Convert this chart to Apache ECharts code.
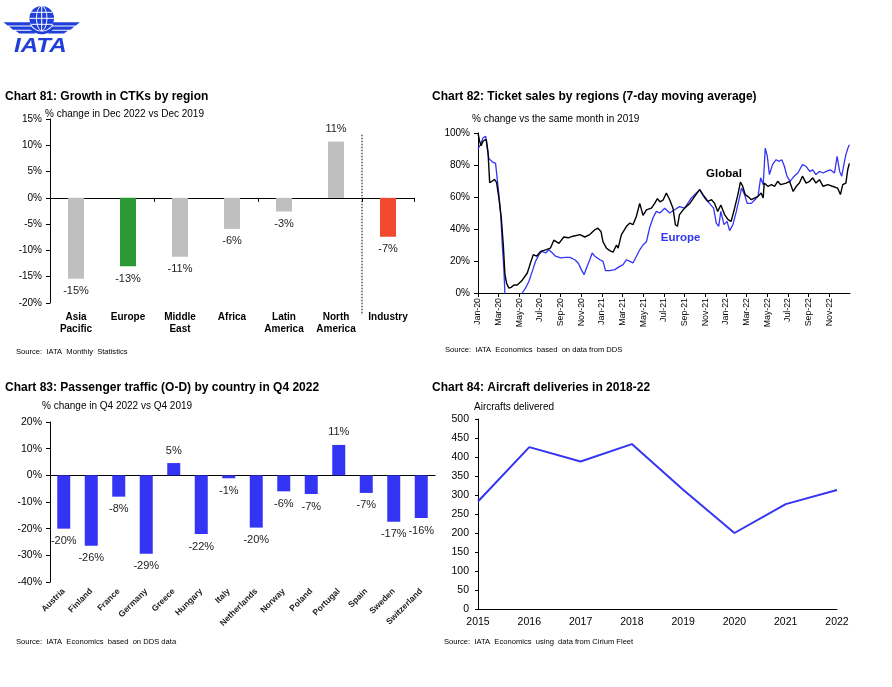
<!DOCTYPE html>
<html><head><meta charset="utf-8">
<script src="https://cdn.jsdelivr.net/npm/echarts@6/dist/echarts.min.js"></script>
<style>html,body{margin:0;padding:0;background:#fff}#c{width:892px;height:687px}</style>
</head><body><div id="c"></div>
<script>
const FONT = "'Liberation Sans', Arial, Helvetica, sans-serif";

// ---------- Chart 81: Growth in CTKs by region (% change Dec 2022 vs Dec 2019)
const ctkRegions = ['Asia\nPacific', 'Europe', 'Middle\nEast', 'Africa', 'Latin\nAmerica', 'North\nAmerica', 'Industry'];
const ctkGrowth = [-15.4, -13.0, -11.2, -5.9, -2.6, 10.7, -7.4];

// ---------- Chart 82: Ticket sales by regions (7-day moving average), [months since Jan-2020, % ]
const ticketMonthNames = ['Jan', 'Mar', 'May', 'Jul', 'Sep', 'Nov'];
const globalSales = [[0,100],[0.15,95],[0.3,92],[0.5,95],[0.8,96],[0.97,88],[1.13,69],[1.4,70],[1.6,71],[1.8,69],[2.03,59],[2.25,47],[2.45,30],[2.6,12],[2.77,6],[3.0,3],[3.2,3.5],[3.48,5],[3.8,5],[4.28,8],[4.77,12.5],[5.09,19],[5.35,24],[5.67,23],[6.06,26],[6.54,27],[7.0,28],[7.34,33],[7.83,31],[8.3,35],[8.73,34.5],[9.2,35.5],[9.86,36.5],[10.34,35],[10.82,36.5],[11.3,39.5],[11.6,40.5],[11.9,38.5],[12.1,32],[12.43,28],[12.75,26.5],[13.07,25.5],[13.4,30],[13.56,28],[13.88,36.5],[14.37,41.7],[14.7,43.7],[15.0,42.7],[15.33,48],[15.65,56],[15.97,48.5],[16.3,52],[16.78,53],[17.1,56],[17.36,59],[17.6,57],[17.9,58],[18.23,62.5],[18.55,58.3],[18.87,53],[19.1,42.7],[19.3,41.7],[19.5,49],[19.85,52],[20.17,54],[20.5,56],[20.97,60.4],[21.45,64.6],[21.77,61.5],[22.25,57.3],[22.6,58.3],[22.9,56],[23.2,51],[23.5,55],[23.86,49],[24.2,45.8],[24.5,44.8],[24.83,53],[25.15,61.5],[25.4,69.4],[25.6,67],[25.86,61.5],[26.1,60.4],[26.45,58.3],[26.8,59.4],[27.1,60.4],[27.4,62.5],[27.6,59.4],[27.7,68.7],[28.05,66.7],[28.4,67.7],[28.7,66.7],[29.0,69.8],[29.3,67.7],[29.83,68.7],[30.15,69.8],[30.5,63.5],[30.8,66.7],[31.1,68.7],[31.4,73],[31.75,68.7],[32.1,69.8],[32.4,72],[32.7,68.7],[33.04,70.8],[33.4,66.7],[33.85,67.7],[34.3,66.7],[34.8,65.6],[35.07,61.5],[35.3,67.7],[35.6,68.7],[35.78,77],[35.94,81]];
const europeSales = [[0,90],[0.26,93],[0.5,97],[0.74,98],[0.9,90],[1.06,84],[1.38,82],[1.7,81],[1.87,80],[2.03,61],[2.2,49],[2.35,30],[2.5,15.6],[2.6,0],[2.7,-5],[4.1,-5],[4.28,0],[4.6,3],[4.93,7.3],[5.25,13.5],[5.57,19.8],[5.9,24],[6.2,26],[6.54,25],[6.86,27],[7.2,25],[7.5,23],[8.0,22],[8.47,22.3],[8.9,22.3],[9.37,20.8],[9.7,18.8],[10.0,14.6],[10.27,11.5],[10.5,15.6],[10.82,20.8],[11.05,25],[11.3,23],[11.8,20.8],[12.1,19.8],[12.34,14],[12.75,14],[13.24,14.6],[13.56,16],[14.04,17.7],[14.37,20.8],[14.7,19.8],[15.0,18.8],[15.33,23],[15.65,27],[15.97,30],[16.3,32],[16.6,40.6],[16.94,47],[17.26,51],[17.6,50],[18.07,53],[18.55,50],[19.03,52],[19.5,54],[20.0,53],[20.3,56],[20.65,59.4],[21.13,62.5],[21.45,64.6],[21.93,59.4],[22.4,56],[22.8,53],[23.06,43.7],[23.3,41.7],[23.5,51],[23.8,42.7],[24.1,44.8],[24.35,39],[24.67,42.7],[25.0,51],[25.3,59.4],[25.5,65.6],[25.8,61.5],[26.05,56],[26.45,56],[26.8,58.3],[27.1,60.4],[27.35,72],[27.6,67.7],[27.8,90.6],[28.0,85.4],[28.2,74],[28.5,80.2],[28.85,83.3],[29.15,82.3],[29.4,83.3],[29.65,79.2],[29.9,73],[30.2,69.8],[30.6,73],[30.95,75],[31.4,80.2],[31.75,79.2],[32.1,76],[32.4,77],[32.7,74],[33.04,76],[33.4,75],[33.7,76],[34.1,77],[34.5,75],[34.75,85.4],[35.0,76],[35.2,73],[35.5,83.3],[35.6,86.5],[35.8,90.6],[35.94,92.7]];
const globalLabelAt = [23.8, 74.4];
const europeLabelAt = [19.6, 34.4];

// ---------- Chart 83: Passenger traffic (O-D) by country in Q4 2022
const paxCountries = ['Austria', 'Finland', 'France', 'Germany', 'Greece', 'Hungary', 'Italy', 'Netherlands', 'Norway', 'Poland', 'Portugal', 'Spain', 'Sweden', 'Switzerland'];
const paxChange = [-20, -26.4, -8, -29.4, 4.6, -22, -1.1, -19.6, -6, -7, 11.4, -6.6, -17.4, -16];

// ---------- Chart 84: Aircraft deliveries
const deliveryYears = ['2015', '2016', '2017', '2018', '2019', '2020', '2021', '2022'];
const deliveries = [283, 426, 388, 434, 314, 200, 276, 313];

const BLUE = '#3434f4';
const LOGO = '#1f3fd8';
const axisLine = { show: true, lineStyle: { color: '#000', width: 1 } };
const lbl = (size) => ({ color: '#000', fontSize: size, fontFamily: FONT });

function barItems(vals) {
  return vals.map(v => ({ value: v, label: { position: v < 0 ? 'bottom' : 'top' } }));
}

function txt(x, y, text, size, weight, color) {
  return { type: 'text', x: x, y: y, silent: true,
    style: { text: text, fontSize: size, fontWeight: weight || 'normal', fontFamily: FONT,
      fill: color || '#000', textVerticalAlign: 'middle', textAlign: 'left' } };
}

const cx = 41.7, cy = 18.3, r = 12.3;
function mirror(pts) { return pts.map(p => [2 * cx - p[0], p[1]]); }
const wing1 = [[3.5, 22.2], [30.5, 22.2], [30.5, 25.6], [7.5, 25.6]];
const wing2 = [[9, 26.6], [31.5, 26.6], [32.5, 29.8], [13, 29.8]];
const wing3 = [[15.5, 30.8], [33.5, 30.8], [35.5, 33.6], [19.5, 33.6]];

const graphics = [
  { type: 'circle', shape: { cx: cx, cy: cy, r: r }, style: { fill: LOGO } },
  { type: 'ellipse', shape: { cx: cx, cy: cy, rx: 5.2, ry: r }, style: { fill: 'none', stroke: '#fff', lineWidth: 1 } },
  { type: 'line', shape: { x1: cx, y1: cy - r, x2: cx, y2: cy + r }, style: { stroke: '#fff', lineWidth: 1 } },
  { type: 'line', shape: { x1: cx - r, y1: cy, x2: cx + r, y2: cy }, style: { stroke: '#fff', lineWidth: 1 } },
  { type: 'line', shape: { x1: cx - 10.6, y1: cy - 6, x2: cx + 10.6, y2: cy - 6 }, style: { stroke: '#fff', lineWidth: 1 } },
  { type: 'line', shape: { x1: cx - 10.6, y1: cy + 6, x2: cx + 10.6, y2: cy + 6 }, style: { stroke: '#fff', lineWidth: 1 } },
  { type: 'arc', shape: { cx: cx, cy: cy, r: r + 2.3, startAngle: Math.PI * 0.22, endAngle: Math.PI * 0.78 }, style: { stroke: LOGO, lineWidth: 2.6, fill: 'none' } },
  { type: 'polygon', shape: { points: wing1 }, style: { fill: LOGO } },
  { type: 'polygon', shape: { points: wing2 }, style: { fill: LOGO } },
  { type: 'polygon', shape: { points: wing3 }, style: { fill: LOGO } },
  { type: 'polygon', shape: { points: mirror(wing1) }, style: { fill: LOGO } },
  { type: 'polygon', shape: { points: mirror(wing2) }, style: { fill: LOGO } },
  { type: 'polygon', shape: { points: mirror(wing3) }, style: { fill: LOGO } },
  { type: 'text', x: 14, y: 46, scaleX: 1.15, style: { text: 'IATA', fontSize: 21, fontWeight: 'bold', fontStyle: 'italic', fontFamily: FONT, fill: LOGO, textVerticalAlign: 'middle' } },

  txt(5, 97, 'Chart 81: Growth in CTKs by region', 12, 'bold'),
  txt(45, 114, '% change in Dec 2022 vs Dec 2019', 10),
  txt(16, 352, 'Source:  IATA  Monthly  Statistics', 7.6),

  txt(432, 97, 'Chart 82: Ticket sales by regions (7-day moving average)', 12, 'bold'),
  txt(472, 119, '% change vs the same month in 2019', 10),
  txt(445, 350, 'Source:  IATA  Economics  based  on data from DDS', 7.6),

  txt(5, 388, 'Chart 83: Passenger traffic (O-D) by country in Q4 2022', 12, 'bold'),
  txt(42, 406, '% change in Q4 2022 vs Q4 2019', 10),
  txt(16, 642, 'Source:  IATA  Economics  based  on DDS data', 7.6),

  txt(432, 388, 'Chart 84: Aircraft deliveries in 2018-22', 12, 'bold'),
  txt(474, 407, 'Aircrafts delivered', 10),
  txt(444, 642, 'Source:  IATA  Economics  using  data from Cirium Fleet', 7.6)
];

const option = {
  animation: false,
  textStyle: { fontFamily: FONT },
  grid: [
    { left: 50, top: 119, width: 364, height: 184 },
    { left: 478, top: 133, width: 372, height: 160 },
    { left: 50, top: 422, width: 385, height: 160 },
    { left: 478, top: 419, width: 359, height: 190 }
  ],
  xAxis: [
    { gridIndex: 0, type: 'category', data: ctkRegions, axisLine: Object.assign({ onZero: true }, axisLine),
      axisTick: { show: true, length: 4, lineStyle: { color: '#000' } }, axisLabel: { show: false }, splitLine: { show: false } },
    { gridIndex: 0, type: 'category', data: ctkRegions, position: 'bottom', axisLine: { show: false, onZero: false },
      axisTick: { show: false }, axisLabel: Object.assign({ fontWeight: 'bold', margin: 8, lineHeight: 12, interval: 0 }, lbl(10)) },
    { gridIndex: 1, type: 'value', min: 0, max: 36, interval: 2, axisLine: axisLine,
      axisTick: { show: true, length: 4, lineStyle: { color: '#000' } }, splitLine: { show: false },
      axisLabel: Object.assign({ rotate: 90, margin: 5, showMaxLabel: false,
        formatter: v => ticketMonthNames[(v / 2) % 6] + '-' + (20 + Math.floor(v / 12)) }, lbl(8.8)) },
    { gridIndex: 2, type: 'category', data: paxCountries, axisLine: Object.assign({ onZero: true }, axisLine),
      axisTick: { show: false }, axisLabel: { show: false } },
    { gridIndex: 2, type: 'category', data: paxCountries, position: 'bottom', axisLine: { show: false, onZero: false },
      axisTick: { show: false }, axisLabel: Object.assign({ rotate: 45, fontWeight: 'bold', margin: 8, interval: 0, color: '#222' }, { fontSize: 8.5, fontFamily: FONT }) },
    { gridIndex: 3, type: 'category', data: deliveryYears, boundaryGap: false, axisLine: axisLine,
      axisTick: { show: false }, axisLabel: Object.assign({ margin: 8 }, lbl(10.5)) }
  ],
  yAxis: [
    { gridIndex: 0, type: 'value', min: -20, max: 15, interval: 5, axisLine: axisLine,
      axisTick: { show: true, length: 4, lineStyle: { color: '#000' } }, splitLine: { show: false },
      axisLabel: Object.assign({ formatter: '{value}%', margin: 8 }, lbl(10)) },
    { gridIndex: 1, type: 'value', min: 0, max: 100, interval: 20, axisLine: axisLine,
      axisTick: { show: true, length: 4, lineStyle: { color: '#000' } }, splitLine: { show: false },
      axisLabel: Object.assign({ formatter: '{value}%', margin: 8 }, lbl(10)) },
    { gridIndex: 2, type: 'value', min: -40, max: 20, interval: 10, axisLine: axisLine,
      axisTick: { show: true, length: 4, lineStyle: { color: '#000' } }, splitLine: { show: false },
      axisLabel: Object.assign({ formatter: '{value}%', margin: 8 }, lbl(10.5)) },
    { gridIndex: 3, type: 'value', min: 0, max: 500, interval: 50, axisLine: axisLine,
      axisTick: { show: true, length: 3, lineStyle: { color: '#000' } }, splitLine: { show: false },
      axisLabel: Object.assign({ margin: 9 }, lbl(10.5)) }
  ],
  series: [
    { type: 'bar', xAxisIndex: 0, yAxisIndex: 0, data: barItems(ctkGrowth), barWidth: 16,
      itemStyle: { color: p => p.name === 'Europe' ? '#2b9a35' : (p.name === 'Industry' ? '#f2482f' : '#bfbfbf') },
      label: { show: true, distance: 7, fontSize: 11, color: '#222', formatter: p => Math.round(p.value) + '%' } },
    { type: 'line', xAxisIndex: 2, yAxisIndex: 1, data: globalSales, showSymbol: false, symbol: 'none',
      lineStyle: { color: '#000', width: 1.4 }, itemStyle: { color: '#000' }, z: 3,
      markPoint: { symbol: 'rect', symbolSize: 1, itemStyle: { color: 'rgba(0,0,0,0)' },
        label: { show: true, position: 'inside', formatter: 'Global', fontWeight: 'bold', fontSize: 11.5, color: '#000' },
        data: [{ coord: globalLabelAt }] } },
    { type: 'line', xAxisIndex: 2, yAxisIndex: 1, data: europeSales, showSymbol: false, symbol: 'none',
      lineStyle: { color: BLUE, width: 1.3 }, itemStyle: { color: BLUE }, z: 2,
      markPoint: { symbol: 'rect', symbolSize: 1, itemStyle: { color: 'rgba(0,0,0,0)' },
        label: { show: true, position: 'inside', formatter: 'Europe', fontWeight: 'bold', fontSize: 11.5, color: BLUE },
        data: [{ coord: europeLabelAt }] } },
    { type: 'bar', xAxisIndex: 3, yAxisIndex: 2, data: barItems(paxChange), barWidth: 13,
      itemStyle: { color: BLUE },
      label: { show: true, distance: 7, fontSize: 11, color: '#222', formatter: p => Math.round(p.value) + '%' } },
    { type: 'line', xAxisIndex: 5, yAxisIndex: 3, data: deliveries, showSymbol: false, symbol: 'none',
      lineStyle: { color: BLUE, width: 2 }, itemStyle: { color: BLUE } }
  ],
  graphic: { elements: graphics }
};

const chart = echarts.init(document.getElementById('c'), null, { renderer: 'canvas' });
chart.setOption(option);

// dotted separator between regions and Industry (Chart 81), positioned from the axes
const xNA = chart.convertToPixel({ xAxisIndex: 0 }, ctkRegions[5]);
const xInd = chart.convertToPixel({ xAxisIndex: 0 }, ctkRegions[6]);
const yTop = chart.convertToPixel({ yAxisIndex: 0 }, 12);
const yBot = chart.convertToPixel({ yAxisIndex: 0 }, -20) + 12;
chart.setOption({ graphic: { elements: [{ id: 'sep', type: 'line', silent: true,
  shape: { x1: (xNA + xInd) / 2, y1: yTop, x2: (xNA + xInd) / 2, y2: yBot },
  style: { stroke: '#000', lineWidth: 1, lineDash: [1.5, 1.5] } }] } });
</script></body></html>
